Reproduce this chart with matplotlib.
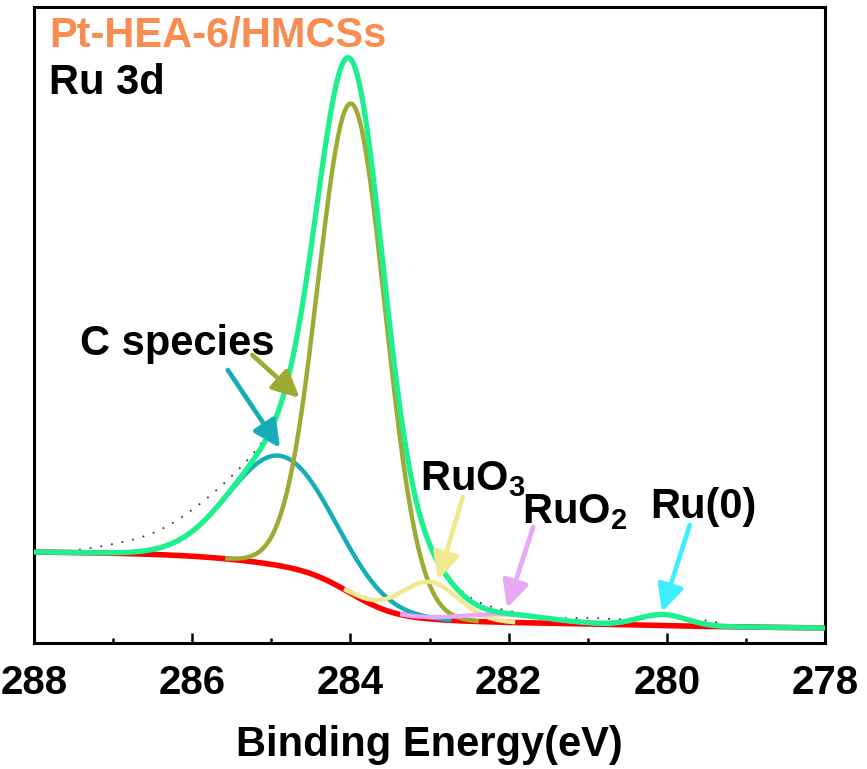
import numpy as np
import matplotlib.pyplot as plt

plt.rcParams['font.family'] = ['Liberation Sans', 'DejaVu Sans']
plt.rcParams['font.weight'] = 'bold'
plt.rcParams['mathtext.fontset'] = 'custom'
plt.rcParams['mathtext.rm'] = 'Liberation Sans:bold'
plt.rcParams['mathtext.bf'] = 'Liberation Sans:bold'
plt.rcParams['mathtext.it'] = 'Liberation Sans:bold'

# fitted Ru 3d / C 1s components: centre (eV), height above background, FWHM (eV)
comp_names = ['C species (C-O)', 'C species (C-C)', 'RuO3', 'RuO2', 'Ru(0)']
comp_centers = [284.88, 283.98, 283.00, 282.05, 280.05]
comp_heights = [110, 490, 37, 8, 11]
comp_fwhms = [1.53, 1.00, 0.85, 1.30, 0.71]
comp_colors = ['#16AEB6', '#9DAB35', '#F2E88F', '#E8A8F5', '#3EEFFF']

# shoulders in the measured spectrum that the fit leaves out
resid_centers = [286.9, 286.0, 282.3, 280.9, 279.45]
resid_heights = [6, 21, 4, 5, 4]
resid_fwhms = [0.94, 1.18, 0.82, 0.71, 0.35]

# background end points (Shirley part + linear part)
bg_low, bg_high, bg_linear = 15, 91, 10

# arrows: (text-side BE, intensity) -> (peak-side BE, intensity)
arrow_tails = [(285.55, 273), (285.24, 288), (282.58, 146), (281.69, 116), (279.71, 118)]
arrow_tips = [(284.89, 195), (284.64, 245), (282.89, 63), (282.02, 35), (280.06, 31)]

be = np.linspace(278, 288, 2001)


def gauss(c, h, w):
    return h * np.exp(-4 * np.log(2) * (be - c) ** 2 / w ** 2)


peaks = [gauss(c, h, w) for c, h, w in zip(comp_centers, comp_heights, comp_fwhms)]
resid = sum(gauss(c, h, w) for c, h, w in zip(resid_centers, resid_heights, resid_fwhms))

# Shirley-type step from the cumulative peak area plus a small linear slope
signal = sum(peaks) + resid
frac = np.cumsum(signal) / np.sum(signal)
bg = bg_low + (bg_high - bg_low - bg_linear) * frac + bg_linear * (be - be[0]) / (be[-1] - be[0])
envelope = bg + sum(peaks)
raw = envelope + resid

fig = plt.figure(figsize=(8.67, 7.69), dpi=100)
ax = fig.add_axes([0.0392, 0.1638, 0.9124, 0.8271])

ax.plot(be, raw, color='#3a3a3a', lw=1.3, ls=(0, (1, 5)), zorder=1)
ax.plot(be, bg, color='#FF0000', lw=4.0, zorder=2, solid_capstyle='butt')
for p, col in zip(peaks, comp_colors):
    # only draw each component where it lifts off the background
    ax.plot(be, np.where(p > 0.5, bg + p, np.nan), color=col, lw=3.2, zorder=3)
ax.plot(be, envelope, color='#1EF08F', lw=3.8, zorder=4, solid_capstyle='butt')

for (x0, y0), (x1, y1), col in zip(arrow_tails, arrow_tips, comp_colors):
    ax.annotate('', xy=(x1, y1), xytext=(x0, y0),
                arrowprops=dict(arrowstyle='-|>,head_length=0.45,head_width=0.22',
                                mutation_scale=36, lw=3.4, color=col,
                                shrinkA=0, shrinkB=0), zorder=5)

ax.text(0.019, 0.937, 'Pt-HEA-6/HMCSs', transform=ax.transAxes,
        color='#F98C50', fontsize=30, fontweight='bold', va='baseline')
ax.text(0.019, 0.863, 'Ru 3d', transform=ax.transAxes,
        color='black', fontsize=30, fontweight='bold', va='baseline')

ax.text(287.42, 288, 'C species', fontsize=30, fontweight='bold', va='baseline')
ax.text(283.12, 153, r'RuO$_\mathbf{3}$', fontsize=30, fontweight='bold', va='baseline')
ax.text(281.83, 120, r'RuO$_\mathbf{2}$', fontsize=30, fontweight='bold', va='baseline')
ax.text(280.21, 125, 'Ru(0)', fontsize=30, fontweight='bold', va='baseline')

ax.set_xlim(288, 278)
ax.set_ylim(0, 636)
ax.set_xticks(np.arange(278, 289, 2))
ax.set_xticks(np.arange(279, 288, 2), minor=True)
ax.set_yticks([])
ax.tick_params(axis='x', which='major', direction='in', length=7, width=1.8,
               pad=15, labelsize=29, top=False)
ax.tick_params(axis='x', which='minor', direction='in', length=3.6, width=1.8, top=False)
for s in ax.spines.values():
    s.set_linewidth(2.2)

ax.set_xlabel('Binding Energy(eV)', fontsize=30, fontweight='bold', labelpad=17)

fig.savefig('out.png', dpi=100)
